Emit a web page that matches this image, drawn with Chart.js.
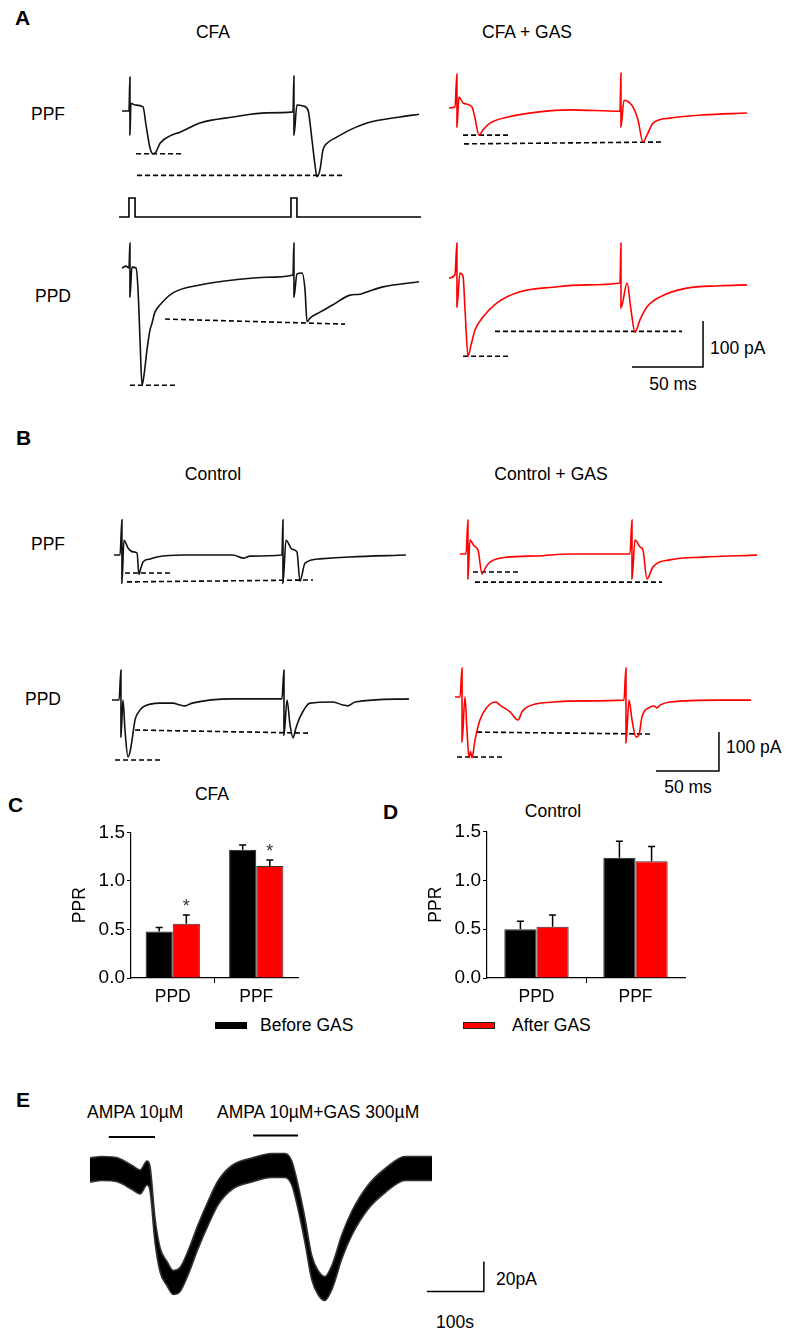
<!DOCTYPE html>
<html>
<head>
<meta charset="utf-8">
<script src="https://cdn.jsdelivr.net/npm/chart.js@4.4.1/dist/chart.umd.min.js"></script>
<style>
body { margin: 0; background: #fff; }
#fig { position: relative; width: 787px; height: 1335px; font-family: "Liberation Sans", Arial, sans-serif; color: #000; overflow: hidden; }
#fig canvas { position: absolute; }
.t { position: absolute; font-size: 17.5px; white-space: nowrap; line-height: 1; }
.c { transform: translate(-50%, -50%); }
.l { transform: translateY(-50%); }
.p { font-weight: bold; font-size: 21px; transform: translateY(-50%); }
.sw { position: absolute; width: 32px; height: 7px; box-sizing: border-box; }
</style>
</head>
<body>
<div id="fig">
  <div class="t p" style="left:15px;top:17px">A</div>
  <div class="t c" style="left:213px;top:33px">CFA</div>
  <div class="t c" style="left:527px;top:33px">CFA + GAS</div>
  <div class="t c" style="left:48px;top:115px">PPF</div>
  <div class="t c" style="left:53px;top:297px">PPD</div>
  <div class="t l" style="left:710px;top:349px">100 pA</div>
  <div class="t c" style="left:673px;top:385px">50 ms</div>

  <div class="t p" style="left:16px;top:437px">B</div>
  <div class="t c" style="left:213px;top:475px">Control</div>
  <div class="t c" style="left:551px;top:475px">Control + GAS</div>
  <div class="t c" style="left:48px;top:545px">PPF</div>
  <div class="t c" style="left:43px;top:700px">PPD</div>
  <div class="t l" style="left:726px;top:748px">100 pA</div>
  <div class="t c" style="left:688px;top:788px">50 ms</div>

  <div class="t p" style="left:8px;top:804px">C</div>
  <div class="t c" style="left:212px;top:795px">CFA</div>
  <div class="t p" style="left:383px;top:811px">D</div>
  <div class="t c" style="left:553px;top:812px">Control</div>
  <div class="sw" style="left:215px;top:1022px;background:#000"></div>
  <div class="t l" style="left:260px;top:1026px">Before GAS</div>
  <div class="sw" style="left:463px;top:1022px;background:#ff0000;border:1px solid #222"></div>
  <div class="t l" style="left:512px;top:1026px">After GAS</div>

  <div class="t p" style="left:16px;top:1099px">E</div>
  <div class="t l" style="left:87px;top:1113px">AMPA 10µM</div>
  <div class="t l" style="left:217px;top:1113px">AMPA 10µM+GAS 300µM</div>
  <div class="t l" style="left:496px;top:1280px">20pA</div>
  <div class="t c" style="left:455px;top:1323px">100s</div>

  <canvas id="aCfaPpf"></canvas>
  <canvas id="aStim"></canvas>
  <canvas id="aCfaPpd"></canvas>
  <canvas id="aGasPpf"></canvas>
  <canvas id="aGasPpd"></canvas>
  <canvas id="bCtlPpf"></canvas>
  <canvas id="bCtlPpd"></canvas>
  <canvas id="bGasPpf"></canvas>
  <canvas id="bGasPpd"></canvas>
  <canvas id="cBars"></canvas>
  <canvas id="dBars"></canvas>
  <canvas id="eTrace"></canvas>
</div>

<script>
// ---- traces, [time ms, current pA] ----
const cfaPpf = [[0,0],[4.9,0],[5.6,74],[5.6,-52],[6.3,17],[9.2,13],[14.8,9],[16.9,-30],[19.7,-80],[21.8,-93],[23.9,-89],[26.8,-70],[33.8,-54],[40.8,-46],[54.9,-26],[78.2,-13],[102,-4],[120.4,-2],[121.1,76],[121.1,-52],[123.2,13],[127.5,11],[131,2],[133.8,-63],[135.9,-117],[137.3,-143],[139.4,-128],[141.5,-85],[144.4,-70],[150,-59],[160.6,-41],[172.5,-26],[195.8,-13],[209.2,-7]];
const cfaPpfDash1 = [[9.9,-93],[42.3,-93]];
const cfaPpfDash2 = [[10.6,-140],[157,-140]];

const stimPulse = [[-2.1,0],[4.9,0],[4.9,1],[9.2,1],[9.2,0],[119,0],[119,1],[123.2,1],[123.2,0],[210.6,0]];

const cfaPpd = [[0,0],[2.8,4],[4.9,0],[5.6,54],[5.6,-63],[7,2],[9.9,0],[11.3,-48],[12.7,-157],[14.1,-255],[15.5,-233],[17.6,-178],[19.7,-135],[21.1,-120],[23.2,-96],[26.8,-80],[35.9,-54],[54.9,-37],[78.2,-26],[102.1,-20],[120.4,-15],[121.1,54],[121.1,-63],[123.2,-13],[126.8,-11],[128.9,-48],[130.3,-117],[132.4,-109],[139.4,-96],[148.6,-80],[160.6,-59],[167.6,-57],[172.5,-52],[183.8,-41],[209.2,-30]];
const cfaPpdDash1 = [[5.6,-255],[37.3,-255]];
const cfaPpdDash2 = [[30.3,-111],[157,-122]];

const cfaGasPpf = [[0,0],[4.2,2],[5.6,74],[5.6,-41],[7,24],[9.9,11],[16.2,2],[18.3,-22],[21.1,-59],[23.9,-48],[28.9,-33],[40.8,-20],[62,-9],[85.2,-4],[120.4,-7],[121.1,76],[121.1,-41],[123.2,17],[129.6,2],[133.1,-26],[136.6,-74],[139.4,-59],[143.7,-33],[155.6,-22],[178.9,-15],[209.9,-11]];
const cfaGasPpfDash1 = [[9.9,-59],[41.5,-59]];
const cfaGasPpfDash2 = [[10.6,-78],[150,-74]];

const cfaGasPpd = [[0,0],[4.2,7],[5.6,76],[5.6,-63],[7.7,11],[9.9,4],[11.3,-70],[13.4,-170],[15.5,-146],[18.3,-113],[23.9,-85],[33.8,-54],[50,-30],[73.2,-20],[97.2,-15],[120.4,-11],[121.1,76],[121.1,-65],[125.4,-11],[128.2,-70],[131,-118],[134.5,-91],[139.4,-63],[148.6,-41],[167.6,-22],[190.8,-17],[209.9,-15]];
const cfaGasPpdDash1 = [[9.9,-170],[41.5,-170]];
const cfaGasPpdDash2 = [[32.4,-116],[164.1,-116]];
const scaleA = [[128.9,-193.5],[178.9,-193.5],[178.9,-93.5]];   // 50 ms, 100 pA

const ctlPpf = [[0,0],[4.8,0],[6.3,90],[6.3,-72],[7.9,38],[11.1,18],[15.1,8],[18.3,5],[19.8,-50],[21.4,-33],[23,-18],[28.6,-10],[34.1,-5],[54.8,0],[94.4,0],[102.4,-8],[108,-3],[133.3,0],[134.1,90],[134.1,-72],[136.5,38],[141.3,15],[145.2,8],[147.6,-67],[151.6,-21],[163.5,-10],[187.3,-5],[231.7,0]];
const ctlPpfDash1 = [[8.7,-46],[44.4,-46]];
const ctlPpfDash2 = [[10.3,-69],[157.9,-64]];

const ctlPpd = [[0,0],[5.6,0],[7.1,77],[7.1,-95],[8.7,0],[10.3,-77],[12.7,-146],[14.3,-133],[15.9,-103],[18.3,-51],[22.2,-26],[24.6,-18],[38.1,-8],[48.4,-8],[54,-13],[57.9,-15],[63.5,-8],[96,3],[134.9,3],[136.5,77],[136.5,-90],[138.9,0],[141.3,-64],[143.7,-97],[146,-72],[149.2,-44],[157.1,-8],[175.4,-5],[183.3,-13],[187.3,-15],[192.9,-5],[235.7,3]];
const ctlPpdDash1 = [[2.4,-154],[38.1,-154]];
const ctlPpdDash2 = [[18.3,-77],[157.1,-85]];

const ctlGasPpf = [[0,0],[4.8,0],[6.3,87],[6.3,-64],[7.9,36],[11.1,21],[14.3,10],[17.5,-51],[20.6,-33],[23.8,-21],[37.3,-8],[61.1,-5],[87.3,0],[134.9,0],[136.5,87],[136.5,-64],[138.9,36],[142.9,18],[145.2,10],[148.4,-64],[153.2,-33],[166.7,-15],[192.9,-8],[235.7,-3]];
const ctlGasPpfDash1 = [[10.3,-46],[46,-46]];
const ctlGasPpfDash2 = [[11.9,-72],[160.3,-72]];

const ctlGasPpd = [[0,0],[4,0],[5.6,74],[5.6,-115],[7.9,0],[9.5,-85],[11.1,-156],[12.3,-140],[13.5,-156],[15.9,-110],[19.8,-59],[25.4,-26],[29.4,-15],[32.5,-13],[35.7,-21],[43.7,-38],[50,-59],[53.2,-38],[57.1,-26],[77.8,-13],[104.8,-10],[134.1,-8],[135.7,74],[135.7,-118],[138.1,-8],[140.5,-59],[143.7,-103],[146,-97],[148.4,-51],[154.8,-26],[158,-23],[160.3,-28],[162.7,-21],[170.6,-13],[210.3,-8],[234.9,-8]];
const ctlGasPpdDash1 = [[1.6,-154],[37.3,-154]];
const ctlGasPpdDash2 = [[17.5,-90],[156.3,-95]];
const scaleB = [[159.5,-190],[209.5,-190],[209.5,-90]];

// ---- E: time s, band top / bottom pA ----
const ampaTime = [0,21,49,74,88,100,105,114,123,135,146,158,172,189,207,225,249,284,319,342,354,365,377,389,400,412,425,442,460,488,518,553,600];
const ampaHigh = [8,9,8,3,0,6,3,-32,-52,-61,-67,-65,-54,-37,-21,-7,3,8,11,11,6,-10,-32,-57,-67,-71,-63,-43,-27,-10,1,9,9];
const ampaLow = [-8,-7,-8,-13,-16,-10,-13,-48,-68,-77,-83,-81,-70,-53,-37,-23,-13,-8,-5,-5,-10,-26,-48,-73,-83,-87,-79,-59,-43,-26,-15,-7,-7];
const ampaBar1 = [[33,22],[114,22]];
const ampaBar2 = [[286,23],[365,23]];
const scaleE = [[591,-81],[691,-81],[691,-61]];   // 100 s, 20 pA

// ---- C / D bars ----
const groups = ['PPD', 'PPF'];
const cfaBefore = [0.48, 1.32];
const cfaBeforeErr = [0.04, 0.05];
const cfaAfter = [0.56, 1.155];
const cfaAfterErr = [0.09, 0.06];
const cfaStars = ['*', '*'];
const ctlBefore = [0.50, 1.23];
const ctlBeforeErr = [0.08, 0.17];
const ctlAfter = [0.525, 1.195];
const ctlAfterErr = [0.12, 0.15];
const yTicks = [0, 0.5, 1.0, 1.5];

const BLACK = '#111';
const RED = '#ff0000';

function xy(pts) { return pts.map(p => ({ x: p[0], y: p[1] })); }

function line(pts, color, w, dash) {
    return { data: xy(pts), borderColor: color, borderWidth: w, borderDash: dash || [], pointRadius: 0, tension: 0, fill: false };
}

// recorded currents: smooth but never overshooting
function trace(pts, color) {
    const d = line(pts, color, 1.6);
    d.cubicInterpolationMode = 'monotone';
    return d;
}

function dashed(pts) { return line(pts, '#000', 1.6, [5, 3]); }

// box = where the canvas sits on the page, geo = pixel of (0,0) and px per unit
function traceChart(id, box, geo, datasets) {
    const cv = document.getElementById(id);
    cv.width = box.w; cv.height = box.h;
    cv.style.left = box.x + 'px';
    cv.style.top = box.y + 'px';
    new Chart(cv, {
        type: 'line',
        data: { datasets: datasets },
        options: {
            responsive: false, animation: false, devicePixelRatio: 1,
            layout: { padding: 0 },
            plugins: { legend: { display: false }, tooltip: { enabled: false } },
            scales: {
                x: { type: 'linear', display: false,
                     min: (box.x - geo.x0) / geo.sx, max: (box.x + box.w - geo.x0) / geo.sx },
                y: { type: 'linear', display: false,
                     min: (geo.y0 - box.y - box.h) / geo.sy, max: (geo.y0 - box.y) / geo.sy }
            }
        }
    });
}

// panel A
traceChart('aCfaPpf', { x: 112, y: 68, w: 315, h: 118 }, { x0: 122, y0: 111, sx: 1.42, sy: 0.46 },
    [trace(cfaPpf, BLACK), dashed(cfaPpfDash1), dashed(cfaPpfDash2)]);
traceChart('aStim', { x: 112, y: 192, w: 315, h: 30 }, { x0: 122, y0: 217, sx: 1.42, sy: 19 },
    [line(stimPulse, '#000', 1.6)]);
traceChart('aCfaPpd', { x: 112, y: 236, w: 315, h: 158 }, { x0: 122, y0: 268, sx: 1.42, sy: 0.46 },
    [trace(cfaPpd, BLACK), dashed(cfaPpdDash1), dashed(cfaPpdDash2)]);
traceChart('aGasPpf', { x: 440, y: 66, w: 315, h: 86 }, { x0: 449, y0: 108, sx: 1.42, sy: 0.46 },
    [trace(cfaGasPpf, RED), dashed(cfaGasPpfDash1), dashed(cfaGasPpfDash2)]);
traceChart('aGasPpd', { x: 440, y: 236, w: 315, h: 137 }, { x0: 449, y0: 278, sx: 1.42, sy: 0.46 },
    [trace(cfaGasPpd, RED), dashed(cfaGasPpdDash1), dashed(cfaGasPpdDash2), line(scaleA, '#000', 1.5)]);

// panel B
traceChart('bCtlPpf', { x: 104, y: 513, w: 310, h: 76 }, { x0: 114, y0: 555, sx: 1.26, sy: 0.39 },
    [trace(ctlPpf, BLACK), dashed(ctlPpfDash1), dashed(ctlPpfDash2)]);
traceChart('bCtlPpd', { x: 104, y: 663, w: 310, h: 104 }, { x0: 112, y0: 700, sx: 1.26, sy: 0.39 },
    [trace(ctlPpd, BLACK), dashed(ctlPpdDash1), dashed(ctlPpdDash2)]);
traceChart('bGasPpf', { x: 450, y: 513, w: 315, h: 76 }, { x0: 460, y0: 554, sx: 1.26, sy: 0.39 },
    [trace(ctlGasPpf, RED), dashed(ctlGasPpfDash1), dashed(ctlGasPpfDash2)]);
traceChart('bGasPpd', { x: 447, y: 661, w: 315, h: 114 }, { x0: 455, y0: 697, sx: 1.26, sy: 0.39 },
    [trace(ctlGasPpd, RED), dashed(ctlGasPpdDash1), dashed(ctlGasPpdDash2), line(scaleB, '#000', 1.5)]);

// panel E - noisy band drawn as the area between top and bottom of the trace
const eLow = trace(ampaTime.map((t, i) => [t, ampaLow[i]]), '#333');
const eHigh = trace(ampaTime.map((t, i) => [t, ampaHigh[i]]), '#333');
eHigh.fill = '-1';
eHigh.backgroundColor = '#000';
traceChart('eTrace', { x: 80, y: 1125, w: 415, h: 180 }, { x0: 90, y0: 1170, sx: 0.57, sy: 1.5 },
    [eLow, eHigh, line(ampaBar1, '#000', 2), line(ampaBar2, '#000', 2), line(scaleE, '#000', 1.5)]);

// error bars and significance stars on top of the bars
const errorBars = {
    id: 'errorBars',
    afterDatasetsDraw(chart) {
        const ctx = chart.ctx;
        const y = chart.scales.y;
        chart.data.datasets.forEach((ds, di) => {
            chart.getDatasetMeta(di).data.forEach((bar, i) => {
                const top = y.getPixelForValue(ds.data[i] + ds.err[i]);
                ctx.save();
                ctx.strokeStyle = '#000';
                ctx.lineWidth = 1.5;
                ctx.beginPath();
                ctx.moveTo(bar.x, bar.y);
                ctx.lineTo(bar.x, top);
                ctx.moveTo(bar.x - 3.5, top);
                ctx.lineTo(bar.x + 3.5, top);
                ctx.stroke();
                if (ds.stars && ds.stars[i]) {
                    ctx.fillStyle = '#333';
                    ctx.font = '18px "Liberation Sans", Arial, sans-serif';
                    ctx.textAlign = 'center';
                    ctx.textBaseline = 'alphabetic';
                    ctx.fillText(ds.stars[i], bar.x, top - 3);
                }
                ctx.restore();
            });
        });
    }
};

function barChart(id, box, before, beforeErr, after, afterErr, stars) {
    const cv = document.getElementById(id);
    cv.width = box.w; cv.height = box.h;
    cv.style.left = box.x + 'px';
    cv.style.top = box.y + 'px';
    new Chart(cv, {
        type: 'bar',
        data: {
            labels: groups,
            datasets: [
                { label: 'Before GAS', data: before, err: beforeErr, backgroundColor: '#000', borderColor: '#222', borderWidth: 1 },
                { label: 'After GAS', data: after, err: afterErr, stars: stars, backgroundColor: RED, borderColor: '#333', borderWidth: 1 }
            ]
        },
        options: {
            responsive: false, animation: false, devicePixelRatio: 1,
            layout: { padding: { top: 12, right: 8, left: 0, bottom: 0 } },
            categoryPercentage: 0.65,
            barPercentage: 1.0,
            plugins: { legend: { display: false }, tooltip: { enabled: false } },
            scales: {
                x: {
                    grid: { offset: true, drawOnChartArea: false, tickLength: 5,
                            color: c => c.index === 1 ? '#000' : 'rgba(0,0,0,0)' },
                    border: { color: '#000', width: 1.2 },
                    ticks: { color: '#000', padding: 4, font: { size: 17.5, family: '"Liberation Sans", Arial' } },
                    afterFit: s => { s.height = 32; }
                },
                y: {
                    min: 0, max: 1.5,
                    grid: { drawOnChartArea: false, tickLength: 4, color: '#000' },
                    border: { color: '#000', width: 1.2 },
                    ticks: { stepSize: 0.25, color: '#000', padding: 2,
                             font: { size: 19, family: '"Liberation Sans", Arial' },
                             callback: v => yTicks.some(t => Math.abs(t - v) < 1e-6) ? v.toFixed(1) : '' },
                    title: { display: true, text: 'PPR', color: '#000', padding: 0,
                             font: { size: 17.5, family: '"Liberation Sans", Arial' } },
                    afterFit: s => { s.width = 61; }
                }
            }
        },
        plugins: [errorBars]
    });
}

barChart('cBars', { x: 70, y: 819, w: 236, h: 191 }, cfaBefore, cfaBeforeErr, cfaAfter, cfaAfterErr, cfaStars);
barChart('dBars', { x: 426, y: 818, w: 267, h: 192 }, ctlBefore, ctlBeforeErr, ctlAfter, ctlAfterErr, null);
</script>
</body>
</html>
